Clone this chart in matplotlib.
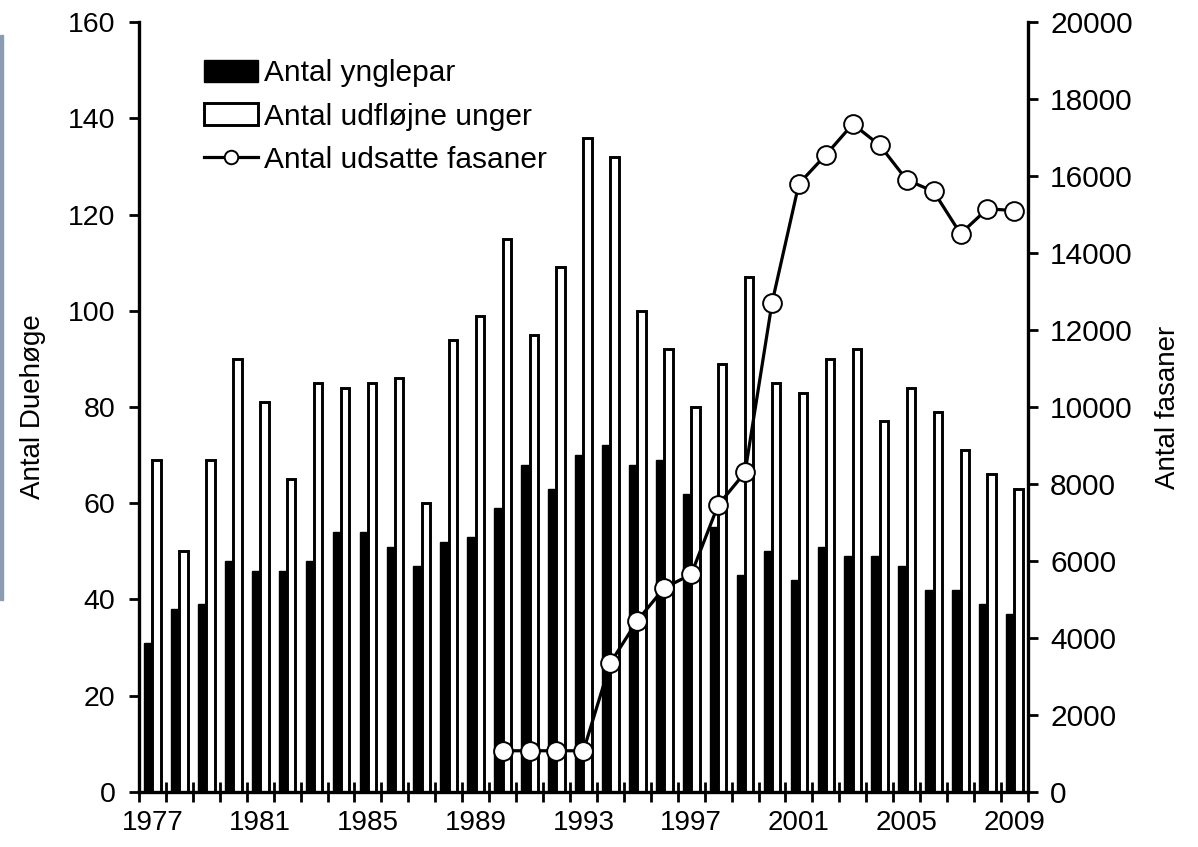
import numpy as np
import matplotlib
matplotlib.use("Agg")
from matplotlib import pyplot as plt
from matplotlib.patches import Rectangle

plt.rcParams['font.family'] = ['Liberation Sans', 'DejaVu Sans']

# data
years = list(range(1977, 2010))
ynglepar = [31, 38, 39, 48, 46, 46, 48, 54, 54, 51, 47, 52, 53, 59, 68, 63, 70,
            72, 68, 69, 62, 55, 45, 50, 44, 51, 49, 49, 47, 42, 42, 39, 37]
unger = [69, 50, 69, 90, 81, 65, 85, 84, 85, 86, 60, 94, 99, 115, 95, 109, 136,
         132, 100, 92, 80, 89, 107, 85, 83, 90, 92, 77, 84, 79, 71, 66, 63]
fasan_years = list(range(1990, 2010))
fasaner = [1070, 1070, 1070, 1070, 3350, 4450, 5300, 5650, 7450, 8300,
           12700, 15800, 16550, 17350, 16800, 15900, 15600, 14500, 15150, 15100]
label_years = [1977, 1981, 1985, 1989, 1993, 1997, 2001, 2005, 2009]

FS = 20
x = np.arange(len(years))
xf = np.array([years.index(y) for y in fasan_years])

fig = plt.figure(figsize=(11.98, 8.47), dpi=100)
ax = fig.add_axes([0.116, 0.065, 0.742, 0.909])
ax2 = ax.twinx()

w = 0.31
b1 = ax.bar(x - w / 2, ynglepar, w, color='black', edgecolor='black', linewidth=1,
            label='Antal ynglepar', zorder=2)
b2 = ax.bar(x + w / 2, unger, w, color='white', edgecolor='black', linewidth=2.1,
            label='Antal udfløjne unger', zorder=2)
l1, = ax2.plot(xf, fasaner, color='black', lw=2.3, marker='o', ms=13.5,
               mfc='white', mec='black', mew=1.4, label='Antal udsatte fasaner', zorder=3)

ax.set_xlim(-0.5, len(years) - 0.5)
ax.set_ylim(0, 160)
ax2.set_ylim(0, 20000)
ax.set_yticks(np.arange(0, 161, 20))
ax2.set_yticks(np.arange(0, 20001, 2000))

# ticks at category boundaries, labels every 4 years at centres
ax.set_xticks(np.arange(len(years) + 1) - 0.5)
ax.set_xticklabels([])
ax.set_xticks([years.index(y) for y in label_years], minor=True)
ax.set_xticklabels([str(y) for y in label_years], minor=True)
ax.tick_params(axis='x', which='major', direction='inout', length=14, width=2)
ax.tick_params(axis='x', which='minor', length=0, pad=13, labelsize=FS)
ax.tick_params(axis='y', direction='out', length=7, width=2, pad=10, labelsize=20.5)
ax2.tick_params(axis='y', direction='out', length=7, width=2, pad=9, labelsize=21.5)

for a in (ax, ax2):
    a.spines['top'].set_visible(False)
    for s in ('left', 'right', 'bottom'):
        a.spines[s].set_linewidth(2.4)
ax.spines['right'].set_visible(False)
ax2.spines['left'].set_visible(False)
ax2.spines['bottom'].set_visible(False)

ax.set_ylabel('Antal Duehøge', fontsize=FS, labelpad=16)
ax2.set_ylabel('Antal fasaner', fontsize=FS, labelpad=16)

ax2.legend([b1, b2, l1], ['Antal ynglepar', 'Antal udfløjne unger', 'Antal udsatte fasaner'],
           loc='upper left', bbox_to_anchor=(0.073, 0.952), frameon=False, fontsize=21.5,
           handlelength=1.81, handleheight=0.75, handletextpad=0.22, labelspacing=0.52,
           borderpad=0, borderaxespad=0, markerscale=0.72)

# cut-off neighbouring picture at the left edge
fig.patches.append(Rectangle((0, 1 - 600 / 847), 3 / 1198, 565 / 847,
                             transform=fig.transFigure, color='#8c9cb0', zorder=0))

fig.savefig('out.png', dpi=100)
